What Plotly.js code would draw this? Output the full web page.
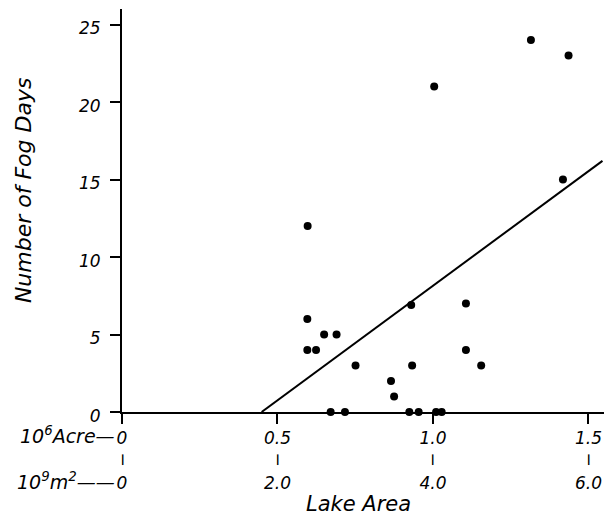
<!DOCTYPE html>
<html>
<head>
<meta charset="utf-8">
<script src="https://cdn.plot.ly/plotly-3.0.1.min.js"></script>
<style>html,body{margin:0;padding:0;background:#fff;}#chart{width:613px;height:518px;}</style>
</head>
<body>
<div id="chart"></div>
<script>
// Lake area (10^6 acre) and number of fog days
var lakeArea = [0.597, 0.596, 0.596, 0.624, 0.650, 0.690, 0.751, 0.930, 0.933, 0.865, 0.875,
                0.671, 0.717, 0.924, 0.954, 1.010, 1.028, 1.106, 1.106, 1.155,
                1.004, 1.315, 1.436, 1.418];
var fogDays  = [12, 6, 4, 4, 5, 5, 3, 6.9, 3, 2, 1,
                0, 0, 0, 0, 0, 0, 7, 4, 3,
                21, 24, 23, 15];
// Regression line end points
var fitX = [0.449, 1.545];
var fitY = [0, 16.2];

var acreTicks  = [0, 0.5, 1.0, 1.5];
var acreLabels = ["0", "0.5", "1.0", "1.5"];
var m2Labels   = ["0", "2.0", "4.0", "6.0"];
var yTicks     = [0, 5, 10, 15, 20, 25];

var FONT = "DejaVu Sans";
var tickText = acreLabels.map(function (a, i) {
  return a + '<br>\u00a0<br>' + m2Labels[i];
});

var traces = [
  {
    x: fitX, y: fitY, type: "scatter", mode: "lines",
    line: {color: "#000", width: 2}, hoverinfo: "skip", showlegend: false
  },
  {
    x: lakeArea, y: fogDays, type: "scatter", mode: "markers",
    marker: {color: "#000", size: 8}, cliponaxis: false, showlegend: false
  }
];

var annotations = [
  {text: "Number of Fog Days", xref: "paper", yref: "paper", x: -0.203, y: 0.551,
   textangle: -90, showarrow: false, xanchor: "center", yanchor: "middle",
   font: {family: FONT, size: 22, color: "#000", style: "italic"}},
  {text: "Lake Area", xref: "paper", yref: "paper", x: 0.49, y: -0.228,
   showarrow: false, xanchor: "center", yanchor: "middle",
   font: {family: FONT, size: 21, color: "#000", style: "italic"}},
  {text: "10<sup>6</sup>Acre\u2014", xref: "x", yref: "paper", x: 0, xshift: -6, y: -0.057,
   showarrow: false, xanchor: "right", yanchor: "middle", borderpad: 0,
   font: {family: FONT, size: 19, color: "#000", style: "italic"}},
  {text: "10<sup>9</sup>m<sup>2</sup>\u2014\u2014", xref: "x", yref: "paper", x: 0, xshift: -6, y: -0.171,
   showarrow: false, xanchor: "right", yanchor: "middle", borderpad: 0,
   font: {family: FONT, size: 19, color: "#000", style: "italic"}}
];
acreTicks.forEach(function (t) {
  annotations.push({text: "\u2503", xref: "x", yref: "paper", x: t, y: -0.119,
    showarrow: false, xanchor: "center", yanchor: "middle", borderpad: 0,
    font: {family: FONT, size: 9, color: "#000"}});
});

var layout = {
  width: 613, height: 518,
  margin: {l: 122, r: 9, t: 9, b: 106},
  paper_bgcolor: "#fff", plot_bgcolor: "#fff",
  showlegend: false,
  xaxis: {
    range: [0, 1.55], tickmode: "array", tickvals: acreTicks, ticktext: tickText,
    showgrid: false, zeroline: false, showline: true, linecolor: "#000", linewidth: 2,
    ticks: "outside", ticklen: 10, tickwidth: 2, tickcolor: "#000",
    tickfont: {family: FONT, size: 17, color: "#000", style: "italic"},
    fixedrange: true
  },
  yaxis: {
    range: [0, 26], tickmode: "array", tickvals: yTicks,
    showgrid: false, zeroline: false, showline: true, linecolor: "#000", linewidth: 2,
    ticks: "outside", ticklen: 10, tickwidth: 2, tickcolor: "#000",
    ticklabelstandoff: 6, ticklabelshift: 4,
    tickfont: {family: FONT, size: 17, color: "#000", style: "italic"},
    fixedrange: true
  },
  annotations: annotations
};

Plotly.newPlot("chart", traces, layout, {displayModeBar: false, staticPlot: true});
</script>
</body>
</html>
